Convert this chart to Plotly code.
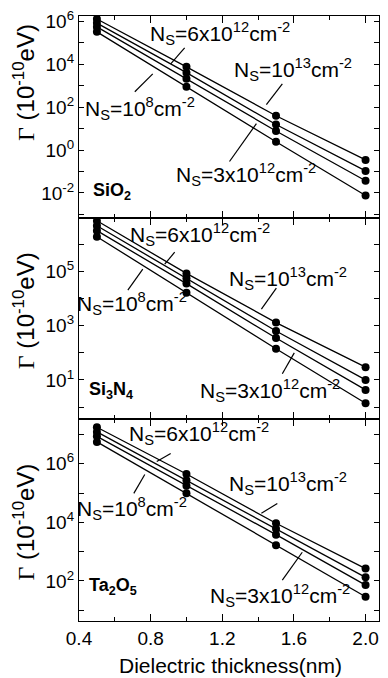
import plotly.graph_objects as go
from plotly.subplots import make_subplots

# ---------------- data ----------------
thickness = [0.5, 1.0, 1.5, 2.0]
series_names = ["Ns=1e13", "Ns=6e12", "Ns=3e12", "Ns=1e8"]

sio2_1e13 = [1.29e6, 7.6e3, 39.8, 0.347]
sio2_6e12 = [8.3e5, 4.07e3, 15.5, 0.107]
sio2_3e12 = [5.5e5, 2.14e3, 7.76, 0.037]
sio2_1e8 = [3.24e5, 891, 2.45, 7.6e-3]

si3n4_1e13 = [7.2e6, 8.3e4, 1.29e3, 29.5]
si3n4_6e12 = [4.7e6, 5.5e4, 631, 10.0]
si3n4_3e12 = [3.1e6, 3.5e4, 347, 4.3]
si3n4_1e8 = [1.86e6, 1.62e4, 141, 1.38]

ta2o5_1e13 = [1.78e7, 4.5e5, 9.3e3, 263]
ta2o5_6e12 = [1.23e7, 2.75e5, 6.0e3, 132]
ta2o5_3e12 = [8.7e6, 1.78e5, 3.8e3, 72]
ta2o5_1e8 = [5.6e6, 9.8e4, 1.66e3, 28.8]

panels = [
    [sio2_1e13, sio2_6e12, sio2_3e12, sio2_1e8],
    [si3n4_1e13, si3n4_6e12, si3n4_3e12, si3n4_1e8],
    [ta2o5_1e13, ta2o5_6e12, ta2o5_3e12, ta2o5_1e8],
]
materials = ["SiO<sub>2</sub>", "Si<sub>3</sub>N<sub>4</sub>", "Ta<sub>2</sub>O<sub>5</sub>"]

y_ranges = [[-3.15, 6.25], [-0.45, 6.97], [0.63, 7.52]]
y_labeled = [[6, 4, 2, 0, -2], [5, 3, 1], [6, 4, 2]]
y_unlabeled = [[5, 3, 1, -1, -3], [6, 4, 2, 0], [7, 5, 3, 1]]

x_major = [0.4, 0.8, 1.2, 1.6, 2.0]
x_major_text = ["0.4", "0.8", "1.2", "1.6", "2.0"]
x_minor = [0.6, 1.0, 1.4, 1.8]

lab_6e12 = "N<sub>S</sub>=6x10<sup>12</sup>cm<sup>-2</sup>"
lab_1e13 = "N<sub>S</sub>=10<sup>13</sup>cm<sup>-2</sup>"
lab_1e8 = "N<sub>S</sub>=10<sup>8</sup>cm<sup>-2</sup>"
lab_3e12 = "N<sub>S</sub>=3x10<sup>12</sup>cm<sup>-2</sup>"

# ---------------- figure ----------------
W, H = 388, 678
L, R, T, B = 79, 8, 14, 57
PW, PH = W - L - R, H - T - B

def px(x, y):
    return (x - L) / PW, (H - B - y) / PH

FONT = "Liberation Sans, Arial, Helvetica, sans-serif"

fig = make_subplots(rows=3, cols=1, shared_xaxes=True, vertical_spacing=0)

for r, series in enumerate(panels, start=1):
    for name, vals in zip(series_names, series):
        fig.add_trace(go.Scatter(
            x=thickness, y=vals, mode="lines+markers", name=name,
            line=dict(color="black", width=1.3),
            marker=dict(color="black", size=8),
            showlegend=False), row=r, col=1)

for r in range(1, 4):
    fig.update_yaxes(
        type="log", range=y_ranges[r - 1],
        tickvals=[10.0 ** d for d in y_labeled[r - 1]],
        ticktext=["10<sup>%d</sup>" % d for d in y_labeled[r - 1]],
        ticks="inside", ticklen=5, tickcolor="black", tickwidth=1,
        minor=dict(ticks="inside", ticklen=5, tickcolor="black", tickwidth=1,
                   tickvals=[10.0 ** d for d in y_unlabeled[r - 1]]),
        showline=True, linecolor="black", linewidth=1.2, mirror="ticks",
        showgrid=False, zeroline=False,
        tickfont=dict(family=FONT, size=19, color="black"),
        row=r, col=1)
    fig.update_xaxes(
        range=[0.4, 2.075],
        tickvals=x_major, ticktext=x_major_text,
        showticklabels=(r == 3),
        ticks="inside", ticklen=7, tickcolor="black", tickwidth=1,
        minor=dict(ticks="inside", ticklen=4, tickvals=x_minor, tickcolor="black"),
        showline=True, linecolor="black", linewidth=1.2, mirror="ticks",
        showgrid=False, zeroline=False,
        tickfont=dict(family=FONT, size=19, color="black"),
        row=r, col=1)

annotations = []
shapes = []

def text(x, y, s, size=21, anchor="center", bold=False):
    X, Y = px(x, y)
    annotations.append(dict(
        x=X, y=Y, xref="paper", yref="paper", text=("<b>%s</b>" % s) if bold else s,
        showarrow=False, xanchor=anchor, yanchor="middle",
        font=dict(family=FONT, size=size, color="black")))

def seg(x0, y0, x1, y1):
    X0, Y0 = px(x0, y0)
    X1, Y1 = px(x1, y1)
    shapes.append(dict(type="line", xref="paper", yref="paper",
                       x0=X0, y0=Y0, x1=X1, y1=Y1,
                       line=dict(color="black", width=1.2)))

# panel 1 labels
text(220, 32, lab_6e12); seg(185, 46, 171, 62)
text(294, 68, lab_1e13); seg(283, 82, 267, 103)
text(140, 107, lab_1e8); seg(135, 90, 153, 72)
text(247, 173, lab_3e12); seg(230, 160, 257, 122)
# panel 2 labels
text(200, 233, lab_6e12); seg(175, 251, 165, 263)
text(289, 277, lab_1e13); seg(277, 287, 262, 308)
text(132, 302, lab_1e8); seg(128, 289, 143, 268)
text(271, 390, lab_3e12); seg(283, 373, 295, 352)
# panel 3 labels
text(199, 433, lab_6e12); seg(171, 453, 157, 461)
text(289, 483, lab_1e13); seg(278, 503, 262, 513)
text(132, 508, lab_1e8); seg(134, 493, 145, 474)
text(281, 595, lab_3e12); seg(283, 580, 303, 552)

# material labels
text(91, 190, materials[0], size=18, anchor="left", bold=True)
text(87, 390, materials[1], size=18, anchor="left", bold=True)
text(87, 586, materials[2], size=18, anchor="left", bold=True)

# y titles
ytitle = '<span style="font-family:Liberation Serif, Times New Roman, serif">\u0393</span> (10<sup>-10</sup>eV)'
for yc in [81, 310, 522]:
    X, Y = px(24, yc)
    annotations.append(dict(x=X, y=Y, xref="paper", yref="paper", text=ytitle,
                            showarrow=False, textangle=-90, xanchor="center", yanchor="middle",
                            font=dict(family=FONT, size=24, color="black")))

# x title
X, Y = px(231, 666)
annotations.append(dict(x=X, y=Y, xref="paper", yref="paper",
                        text="Dielectric thickness(nm)", showarrow=False,
                        xanchor="center", yanchor="middle",
                        font=dict(family=FONT, size=21, color="black")))

fig.update_layout(
    width=W, height=H,
    margin=dict(l=L, r=R, t=T, b=B, pad=0),
    paper_bgcolor="white", plot_bgcolor="white",
    annotations=annotations, shapes=shapes,
    font=dict(family=FONT, color="black"),
)

fig.write_html("out.html")
